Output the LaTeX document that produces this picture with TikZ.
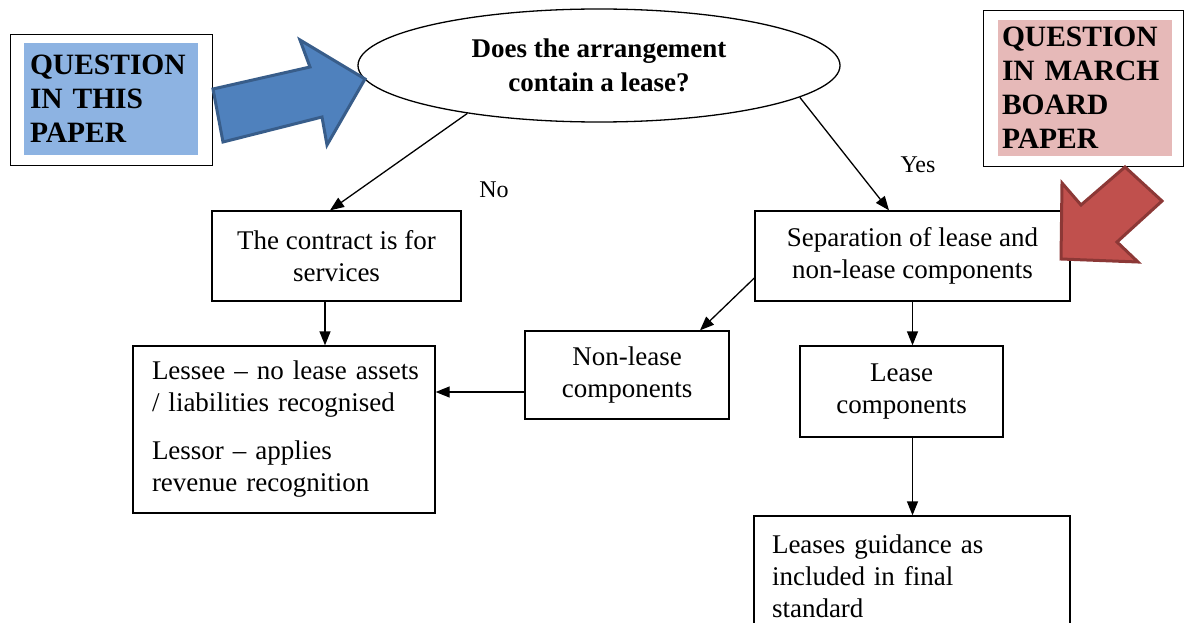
\documentclass[tikz,border=0pt]{standalone}
\usepackage{fontspec}
\setmainfont{Liberation Serif}
\usetikzlibrary{shapes.geometric,arrows.meta}
\definecolor{qlightblue}{HTML}{8DB3E2}
\definecolor{qblue}{HTML}{4F81BD}
\definecolor{qblueline}{HTML}{385D8A}
\definecolor{qpink}{HTML}{E6B9B8}
\definecolor{qred}{HTML}{C0504D}
\definecolor{qredline}{HTML}{8C3836}
\begin{document}
\begin{tikzpicture}[x=1pt,y=-1pt,
  box/.style={draw, line width=1.3pt, rectangle, inner sep=0pt, font=\fontsize{27}{32}\selectfont, align=center},
  arr/.style={line width=1.3pt, -{Triangle[length=14pt,width=11pt]}},
  lbl/.style={font=\fontsize{24}{28}\selectfont, inner sep=0pt},
  qouter/.style={draw, line width=1pt, rectangle, inner sep=0pt},
  qtext/.style={rectangle, inner ysep=0pt, align=left, font=\bfseries\fontsize{29.5}{34}\selectfont},
  bigarrow/.style={line width=3pt, line join=miter}]
\clip (0,0) rectangle (1185,623);
\fill[white] (0,0) rectangle (1185,623);

% question ellipse
\node[draw, ellipse, line width=1.3pt, minimum width=482, minimum height=113, inner sep=0pt,
      font=\bfseries\fontsize{27}{34}\selectfont, align=center] (q) at (599,65.5)
      {Does the arrangement\\contain a lease?};

% boxes
\node[box, minimum width=249, minimum height=90] (contract) at (336.5,256) {The contract is for\\services};
\node[box, minimum width=315, minimum height=90] (sep) at (912.5,256) {Separation of lease and\\non-lease components};
\node[box, minimum width=302, minimum height=167, text width=264, align=left] (lessee) at (284,429.5)
  {\mbox{Lessee – no lease assets}\\\mbox{/ liabilities recognised}\\[16pt]\mbox{Lessor – applies}\\\mbox{revenue recognition}};
\node[box, minimum width=204, minimum height=88] (nonlease) at (627,375) {Non-lease\\components};
\node[box, minimum width=203, minimum height=91] (lease) at (901.5,391.5) {Lease\\components};
\node[box, minimum width=316, minimum height=121, text width=280, align=left] (guide) at (912,576.5)
  {\mbox{Leases guidance as}\\\mbox{included in final}\\\mbox{standard}};

% labels
\node[lbl] (no) at (494,190) {No};
\node[lbl] (yes) at (918,165) {Yes};

% connectors
\draw[arr] (q.200) -- ([xshift=-6.5pt]contract.north);
\draw[arr] (q.351) -- ([xshift=-23.5pt]sep.north);
\draw[arr] ([xshift=-11.5pt]contract.south) -- ([xshift=-11.5pt]contract.south |- lessee.north);
\draw[arr] ([yshift=-17pt]nonlease.west) -- ([yshift=-17pt]nonlease.west -| lessee.east);
\draw[arr] ([yshift=-22pt]sep.west) -- ([xshift=73pt]nonlease.north);
\draw[arr] (sep.south) -- (sep.south |- lease.north);
\draw[arr] ([xshift=11pt]lease.south) -- ([xshift=11pt]lease.south |- guide.north);

% question callouts
\node[qouter, minimum width=202, minimum height=130] (qb1) at (111,100) {};
\node[qtext, fill=qlightblue, minimum width=174, minimum height=112, text width=162, inner xsep=6pt] (qb1in) at (111,99)
  {QUESTION\\IN THIS\\PAPER};
\node[qouter, minimum width=200, minimum height=155] (qb2) at (1083,88.5) {};
\node[qtext, fill=qpink, minimum width=174, minimum height=136, text width=166, inner xsep=4pt] (qb2in) at (1085,88)
  {QUESTION\\IN MARCH\\BOARD\\PAPER};

% block arrows
\filldraw[bigarrow, fill=qblue, draw=qblueline]
  (213,89) -- (310,67) -- (300,40) -- (365,79) -- (327,145) -- (322,117) -- (223,142) -- cycle;
\filldraw[bigarrow, fill=qred, draw=qredline]
  (1125,167) -- (1162,201) -- (1117,242) -- (1138,262) -- (1061,259) -- (1062,183) -- (1081,205) -- cycle;
\end{tikzpicture}
\end{document}
